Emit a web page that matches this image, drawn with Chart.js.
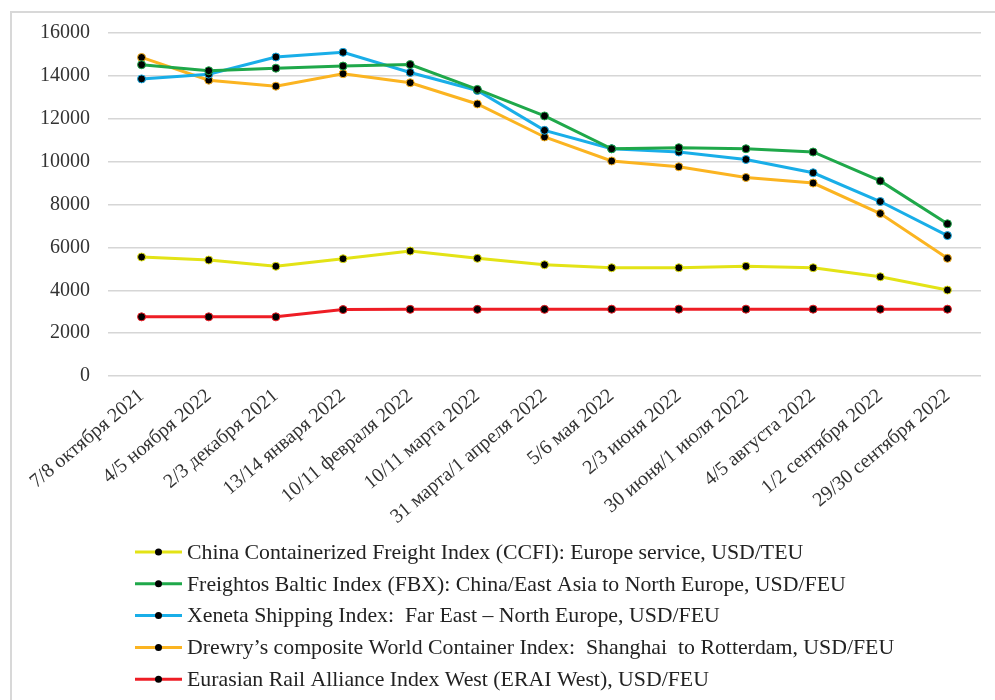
<!DOCTYPE html>
<html><head><meta charset="utf-8">
<script src="https://cdn.jsdelivr.net/npm/chart.js@4.4.1/dist/chart.umd.min.js"></script>
<style>
html,body{margin:0;padding:0;background:#fff;}
#wrap{position:relative;width:995px;height:700px;overflow:hidden;background:#fff;}
#frame{position:absolute;left:10px;top:11px;width:1000px;height:720px;border:2px solid #d8d8d8;box-sizing:border-box;}
canvas{position:absolute;left:0;top:0;}
</style></head><body>
<div id="wrap"><div id="frame"></div><canvas id="c" width="995" height="700"></canvas></div>
<script>
const categories = ["7/8 октября 2021","4/5 ноября 2022","2/3 декабря 2021","13/14 января 2022","10/11 февраля 2022","10/11 марта 2022","31 марта/1 апреля 2022","5/6 мая 2022","2/3 июня 2022","30 июня/1 июля 2022","4/5 августа 2022","1/2 сентября 2022","29/30 сентября 2022"];
const ccfi   = [5550, 5410, 5120, 5470, 5830, 5490, 5190, 5050, 5050, 5120, 5050, 4630, 4010];
const fbx    = [14520, 14240, 14360, 14460, 14530, 13370, 12130, 10600, 10650, 10600, 10450, 9100, 7100];
const xeneta = [13860, 14080, 14880, 15100, 14160, 13320, 11460, 10600, 10450, 10100, 9480, 8140, 6550];
const drewry = [14860, 13800, 13520, 14100, 13680, 12690, 11150, 10030, 9760, 9260, 9000, 7580, 5490];
const erai   = [2760, 2760, 2760, 3100, 3110, 3110, 3110, 3120, 3120, 3120, 3120, 3120, 3120];
const seriesLabels = [
  "China Containerized Freight Index (CCFI): Europe service, USD/TEU",
  "Freightos Baltic Index (FBX): China/East Asia to North Europe, USD/FEU",
  "Xeneta Shipping Index:  Far East \u2013 North Europe, USD/FEU",
  "Drewry\u2019s composite World Container Index:  Shanghai  to Rotterdam, USD/FEU",
  "Eurasian Rail Alliance Index West (ERAI West), USD/FEU"
];
const yMin = 0, yMax = 16000, yStep = 2000;
const colors = ["#e3e316", "#1fa84a", "#19aee8", "#fbb421", "#ee1d25"];
const seriesData = [ccfi, fbx, xeneta, drewry, erai];

const FONT = "'Liberation Serif','Times New Roman',serif";

const legendPlugin = {
  id: 'customLegend',
  afterDraw(chart) {
    const ctx = chart.ctx;
    ctx.save();
    const x0 = 135, lineW = 47, textX = 187;
    chart.data.datasets.forEach((ds, i) => {
      const y = 552 + i * 31.8;
      ctx.strokeStyle = ds.borderColor;
      ctx.lineWidth = 3;
      ctx.beginPath(); ctx.moveTo(x0, y); ctx.lineTo(x0 + lineW, y); ctx.stroke();
      ctx.fillStyle = '#000';
      ctx.beginPath(); ctx.arc(x0 + lineW / 2, y, 3.5, 0, Math.PI * 2); ctx.fill();
      ctx.fillStyle = '#222';
      ctx.font = "21.8px " + FONT;
      ctx.textBaseline = 'middle';
      ctx.textAlign = 'left';
      ctx.fillText(ds.label, textX, y + 1);
    });
    ctx.restore();
  }
};

new Chart(document.getElementById('c'), {
  type: 'line',
  data: {
    labels: categories,
    datasets: seriesData.map((d, i) => ({
      label: seriesLabels[i],
      data: d,
      borderColor: colors[i],
      backgroundColor: colors[i],
      borderWidth: 3,
      tension: 0,
      pointRadius: 4,
      pointBackgroundColor: '#000',
      pointBorderColor: colors[i],
      pointBorderWidth: 1
    }))
  },
  options: {
    responsive: false,
    animation: false,
    devicePixelRatio: 1,
    layout: { padding: { left: 22, right: 14, top: 33, bottom: 163 } },
    plugins: { legend: { display: false }, tooltip: { enabled: false } },
    scales: {
      x: {
        offset: true,
        afterFit(scale) { scale.paddingLeft = 0; scale.paddingRight = 0; },
        grid: { display: false, drawTicks: false },
        border: { display: false },
        ticks: { autoSkip: false, minRotation: 40, maxRotation: 40, color: '#333', padding: 8, font: { family: FONT, size: 20 } }
      },
      y: {
        min: yMin, max: yMax,
        grid: { color: '#d6d6d6', lineWidth: 1.5, drawTicks: false },
        border: { display: false },
        ticks: { stepSize: yStep, color: '#333', padding: 18, font: { family: FONT, size: 20 },
                 callback: (v) => String(v) }
      }
    }
  },
  plugins: [legendPlugin]
});
</script>
</body></html>
